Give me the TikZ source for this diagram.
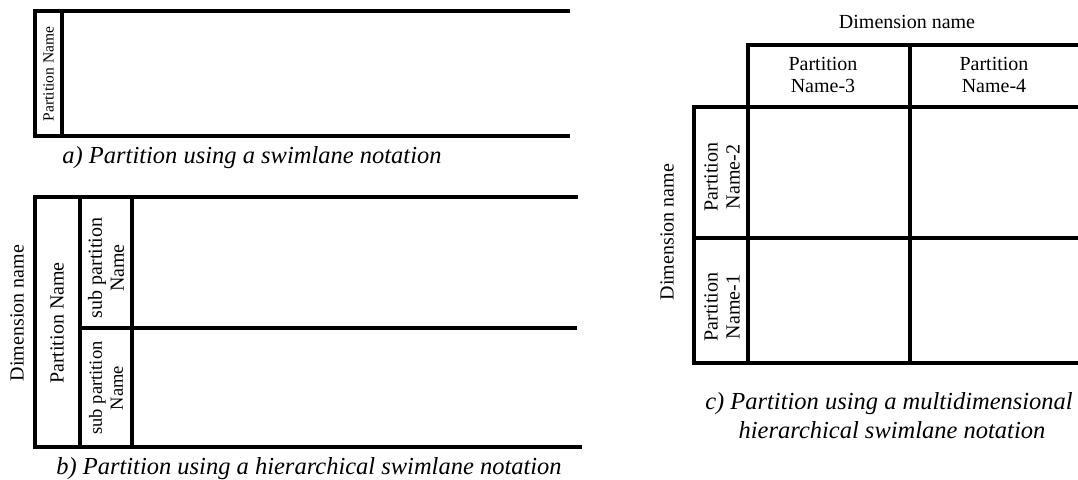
\documentclass[tikz,border=0pt]{standalone}
\usepackage{fontspec}
\setmainfont{Liberation Serif}
\usepackage{tikz}

\tikzset{
  lane/.style={line width=4.5pt, line join=miter},
  lbl/.style={font=\fontsize{20}{22}\selectfont, align=center, inner sep=0pt},
  figcap/.style={font=\fontsize{24.5}{29}\selectfont\itshape, anchor=base, inner sep=0pt}
}

\begin{document}
\begin{tikzpicture}[x=1pt, y=-1pt]
\useasboundingbox (0, 0) rectangle (1078, 479);
%a) swimlane
\draw [lane](570, 11) -- (35, 11) -- (35, 136) -- (570, 136);
\draw [lane](62, 11) -- (62, 136);
%b) hierarchical swimlane
\draw [lane](578, 197) -- (35, 197) -- (35, 447) -- (582, 447);
\draw [lane](80, 197) -- (80, 447);
\draw [lane](132, 197) -- (132, 447);
\draw [lane](80, 328) -- (577, 328);
%c) multidimensional swimlane
\draw [lane](1078, 45) -- (748, 45) -- (748, 363);
\draw [lane](748, 107) -- (694, 107) -- (694, 363) -- (1078, 363);
\draw [lane](748, 107) -- (1078, 107);
\draw [lane](694, 238) -- (1078, 238);
\draw [lane](910, 45) -- (910, 363);
%Text
\node [lbl, font=\fontsize{15.5}{17}\selectfont, rotate=90] (nameA) at (48.5, 74) {Partition Name};
\node [figcap] (capA) at (252, 163) {a) Partition using a swimlane notation};
\node [lbl, rotate=90] (dimB) at (17, 313) {Dimension name};
\node [lbl, rotate=90] (partB) at (57, 323) {Partition Name};
\node [lbl, rotate=90] (subTopB) at (106, 268) {sub partition\\Name};
\node [lbl, font=\fontsize{18.5}{21}\selectfont, rotate=90] (subBotB) at (106, 388) {sub partition\\Name};
\node [figcap] (capB) at (309, 474) {b) Partition using a hierarchical swimlane notation};
\node [lbl] (dimTopC) at (907, 22) {Dimension name};
\node [lbl] (pn3) at (823, 75) {Partition\\Name-3};
\node [lbl] (pn4) at (994, 75) {Partition\\Name-4};
\node [lbl, rotate=90] (dimLeftC) at (667, 232) {Dimension name};
\node [lbl, rotate=90] (pn2) at (722, 177) {Partition\\Name-2};
\node [lbl, rotate=90] (pn1) at (722, 307) {Partition\\Name-1};
\node [figcap] (capC1) at (889, 409) {c) Partition using a multidimensional};
\node [figcap] (capC2) at (892, 438) {hierarchical swimlane notation};
\end{tikzpicture}
\end{document}
